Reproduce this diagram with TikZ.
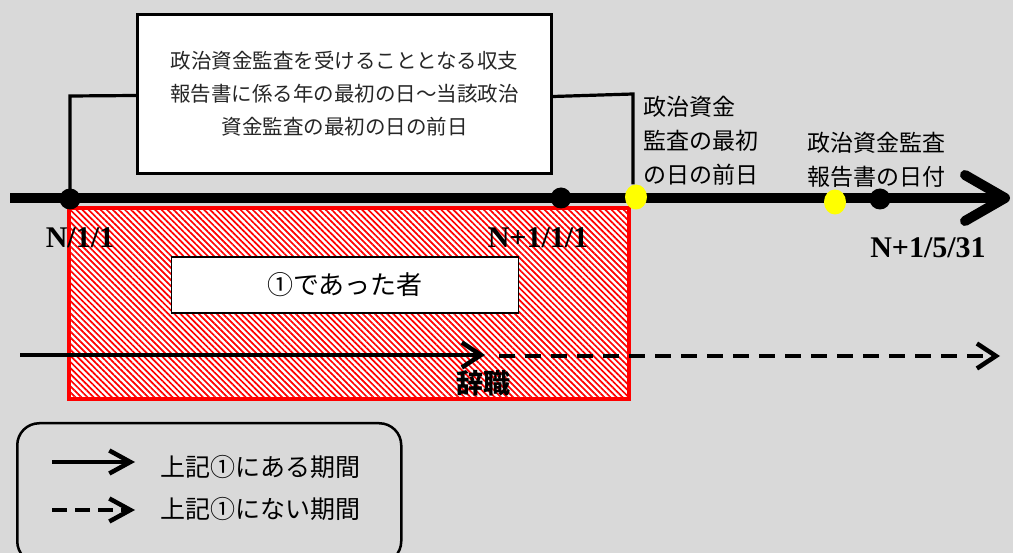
\documentclass[tikz,border=0pt]{standalone}
\usepackage{fontspec}
\setmainfont{Liberation Serif}
\newfontfamily\jp{Noto Sans CJK JP}
\usetikzlibrary{arrows.meta,patterns.meta,shapes.geometric}
\definecolor{bg}{HTML}{D9D9D9}
\definecolor{ylw}{HTML}{FFFF00}
\begin{document}
\begin{tikzpicture}[x=1pt,y=-1pt,
  dot/.style={circle,fill=black,inner sep=0pt,minimum size=21pt},
  ydot/.style={ellipse,fill=ylw,inner sep=0pt,minimum width=22pt,minimum height=25pt},
  leader/.style={line width=3.2pt,line join=miter},
  jplabel/.style={font=\jp\fontsize{23}{34}\selectfont,align=left,inner sep=0pt,anchor=west},
  datelbl/.style={font=\bfseries\fontsize{30}{30}\selectfont,inner sep=0pt,anchor=base},
  period/.style={line width=3.5pt,-{Straight Barb[length=19pt,width=25pt,line width=4.5pt]}},
  legarrow/.style={line width=3.5pt,-{Straight Barb[length=21pt,width=23pt,line width=4.5pt]}},
  axisline/.style={line width=10pt,-{Straight Barb[length=40pt,width=46pt,line width=10pt,round]}},
]
\fill[bg] (0,0) rectangle (1013,553);
\useasboundingbox (0,0) rectangle (1013,553);

% hatched period box
\node (hatch) [draw=red,line width=4pt,preaction={fill=white},
  pattern={Lines[angle=-45,distance=4.3pt,line width=1.7pt]},pattern color=red,
  minimum width=560pt,minimum height=191pt,inner sep=0pt,anchor=north west] at (68,207) {};

% callout box
\node (callout) [draw,line width=3pt,fill=white,minimum width=414pt,minimum height=159pt,
  inner sep=0pt,anchor=north west,align=center,
  font=\jp\fontsize{20.5}{33}\selectfont,text=black!85] at (136,13)
  {政治資金監査を受けることとなる収支\\報告書に係る年の最初の日～当該政治\\資金監査の最初の日の前日};

% axis
\coordinate (axL) at (10,198);
\coordinate (axR) at (1010,198);
\draw[axisline] (axL) -- (axR);

% dots
\node (d1) [dot] at (70,199) {};
\node (d2) [dot] at (561,198) {};
\node (d3) [dot] at (880,199) {};
\node (y1) [ydot] at (636,197) {};
\node (y2) [ydot] at (835,202) {};

% leaders
\coordinate (lbend) at (70,96);
\coordinate (rbend) at (633,94);
\draw[leader] ([yshift=-1.5pt]callout.west) -- (lbend) -- (d1.center);
\draw[leader] ([yshift=-2.5pt]callout.east) -- (rbend) -- (rbend |- y1.north);

% labels above axis
\node (lab1) [jplabel] at (643,141) {政治資金\\監査の最初\\の日の前日};
\node (lab2) [jplabel] at (807,160) {政治資金監査\\報告書の日付};

% dates
\node (n1) [datelbl] at (80,248) {N/1/1};
\node (n2) [datelbl] at (538,248) {N+1/1/1};
\node (n3) [datelbl] at (928,258) {N+1/5/31};

% who box
\node (who) [draw,line width=1.5pt,fill=white,minimum width=347pt,minimum height=56pt,
  inner sep=0pt,font=\jp\fontsize{26}{26}\selectfont] at (345,285) {①であった者};

% period arrows
\coordinate (pA) at (20,355);
\coordinate (pB) at (485,355);
\coordinate (pC) at (499,356);
\coordinate (pD) at (1000,356);
\draw[period] (pA) -- (pB);
\draw[period,dash pattern=on 16pt off 10pt] (pC) -- (pD);
\node (resign) [font=\jp\bfseries\fontsize{27}{27}\selectfont,inner sep=0pt] at (483,383) {辞職};

% legend
\node (legend) [draw,line width=2.5pt,rounded corners=22pt,minimum width=384pt,minimum height=140pt,
  inner sep=0pt,anchor=north west] at (16,422) {};
\coordinate (l1a) at (52,462);
\coordinate (l1b) at (135,462);
\coordinate (l2a) at (52,510);
\coordinate (l2b) at (135,510);
\draw[legarrow] (l1a) -- (l1b);
\draw[legarrow,dash pattern=on 15pt off 8pt] (l2a) -- (l2b);
\node (t1) [font=\jp\fontsize{25}{25}\selectfont,inner sep=0pt,anchor=west] at (160,467) {上記①にある期間};
\node (t2) [font=\jp\fontsize{25}{25}\selectfont,inner sep=0pt,anchor=west] at (160,509) {上記①にない期間};
\end{tikzpicture}
\end{document}
